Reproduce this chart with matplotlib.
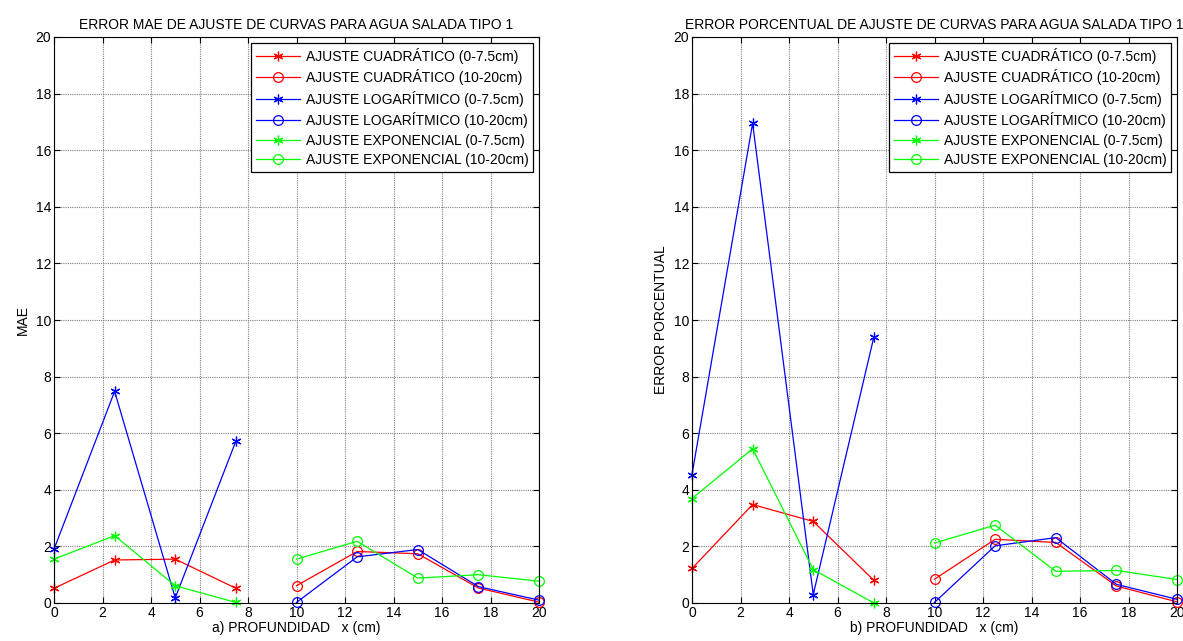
import matplotlib.pyplot as plt

plt.rcParams['font.family'] = ['Liberation Sans', 'DejaVu Sans']
plt.rcParams['font.size'] = 10

# Depth positions
x_shallow = [0, 2.5, 5, 7.5]
x_deep = [10, 12.5, 15, 17.5, 20]

# MAE (left panel)
mae_quad_s = [0.52, 1.52, 1.55, 0.52]
mae_quad_d = [0.61, 1.82, 1.74, 0.53, 0.03]
mae_log_s = [1.9, 7.48, 0.18, 5.72]
mae_log_d = [0.02, 1.63, 1.89, 0.58, 0.1]
mae_exp_s = [1.55, 2.38, 0.61, 0.02]
mae_exp_d = [1.55, 2.18, 0.88, 1.0, 0.77]

# Percent error (right panel)
pct_quad_s = [1.22, 3.48, 2.88, 0.8]
pct_quad_d = [0.84, 2.25, 2.14, 0.6, 0.04]
pct_log_s = [4.54, 16.95, 0.3, 9.4]
pct_log_d = [0.02, 2.02, 2.31, 0.66, 0.13]
pct_exp_s = [3.69, 5.45, 1.18, 0.0]
pct_exp_d = [2.12, 2.75, 1.12, 1.15, 0.83]

labels = ['AJUSTE CUADRÁTICO (0-7.5cm)', 'AJUSTE CUADRÁTICO (10-20cm)',
          'AJUSTE LOGARÍTMICO (0-7.5cm)', 'AJUSTE LOGARÍTMICO (10-20cm)',
          'AJUSTE EXPONENCIAL (0-7.5cm)', 'AJUSTE EXPONENCIAL (10-20cm)']
colors = ['#ff0000', '#ff0000', '#0000ff', '#0000ff', '#00ff00', '#00ff00']

asterisk = (6, 2, 0)

fig = plt.figure(figsize=(11.83, 6.41), dpi=100)
ax1 = fig.add_axes([54 / 1183, 1 - 603 / 641, 485 / 1183, 566 / 641])
ax2 = fig.add_axes([692 / 1183, 1 - 603 / 641, 485 / 1183, 566 / 641])


def draw(ax, series, title, xlabel, ylabel):
    for i, ys in enumerate(series):
        xs = x_shallow if i % 2 == 0 else x_deep
        if i % 2 == 0:
            ax.plot(xs, ys, color=colors[i], lw=0.9, marker=asterisk,
                    ms=7, mew=0.9, label=labels[i], clip_on=False)
        else:
            ax.plot(xs, ys, color=colors[i], lw=0.9, marker='o', ms=7,
                    mfc='none', mew=0.9, label=labels[i], clip_on=False)
    ax.set_xlim(0, 20)
    ax.set_ylim(0, 20)
    ax.set_xticks(range(0, 21, 2))
    ax.set_yticks(range(0, 21, 2))
    ax.grid(True, color='0.5', linestyle=(0, (1, 1)), linewidth=0.8)
    ax.tick_params(direction='in', top=True, right=True, length=4, pad=2)
    for s in ax.spines.values():
        s.set_linewidth(0.8)
    ax.set_title(title, fontsize=10, pad=6)
    ax.set_xlabel(xlabel, labelpad=1)
    ax.set_ylabel(ylabel)
    leg = ax.legend(loc='upper right', bbox_to_anchor=(0.988, 0.99),
                    fancybox=False, framealpha=1, edgecolor='black',
                    handlelength=3.2, borderpad=0.35, labelspacing=0.4,
                    handletextpad=0.4, borderaxespad=0)
    leg.get_frame().set_linewidth(0.9)


draw(ax1, [mae_quad_s, mae_quad_d, mae_log_s, mae_log_d, mae_exp_s, mae_exp_d],
     'ERROR MAE DE AJUSTE DE CURVAS PARA AGUA SALADA TIPO 1',
     'a) PROFUNDIDAD   x (cm)', 'MAE')
draw(ax2, [pct_quad_s, pct_quad_d, pct_log_s, pct_log_d, pct_exp_s, pct_exp_d],
     'ERROR PORCENTUAL DE AJUSTE DE CURVAS PARA AGUA SALADA TIPO 1',
     'b) PROFUNDIDAD   x (cm)', 'ERROR PORCENTUAL')

fig.savefig('out.png', dpi=100)
